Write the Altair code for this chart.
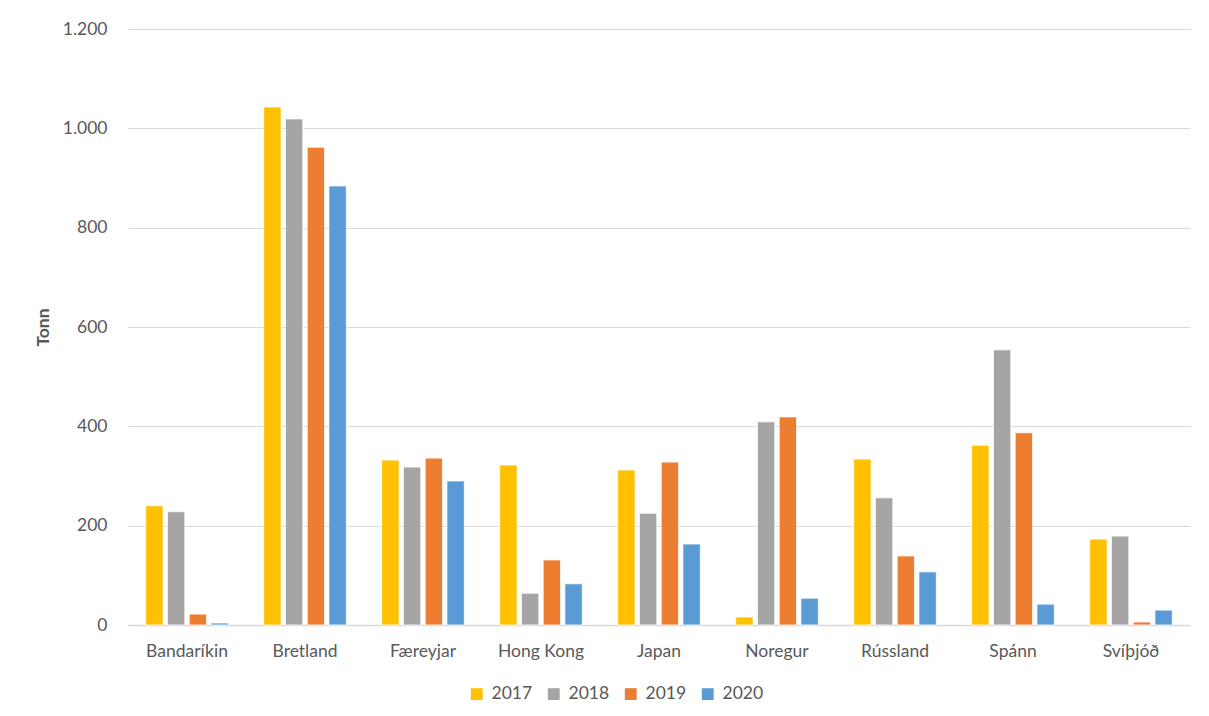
import altair as alt
import pandas as pd

countries = ["Bandaríkin", "Bretland", "Færeyjar", "Hong Kong", "Japan",
             "Noregur", "Rússland", "Spánn", "Svíþjóð"]
years = ["2017", "2018", "2019", "2020"]
v2017 = [240, 1043, 332, 322, 312, 16, 334, 362, 173]
v2018 = [228, 1019, 318, 64, 225, 409, 256, 554, 179]
v2019 = [22, 962, 336, 131, 328, 419, 139, 387, 6]
v2020 = [4, 884, 290, 83, 163, 54, 107, 42, 30]
colors = ["#FFC000", "#A5A5A5", "#ED7D31", "#5B9BD5"]

rows = []
for y, vals in zip(years, [v2017, v2018, v2019, v2020]):
    for c, v in zip(countries, vals):
        rows.append({"land": c, "ar": y, "tonn": v})
df = pd.DataFrame(rows)

FONT = "Lato"
FS = 17.5
bars = alt.Chart(df).mark_bar(stroke="white", strokeWidth=0.8).encode(
    x=alt.X("land:N", sort=countries, title=None,
            scale=alt.Scale(paddingInner=0.3, paddingOuter=0.15),
            axis=alt.Axis(labelAngle=0, labelPadding=17, ticks=False,
                          domainColor="#D9D9D9", domainWidth=1.5,
                          labelFontSize=FS, labelColor="#595959", labelFont=FONT)),
    xOffset=alt.XOffset("ar:N", sort=years,
                        scale=alt.Scale(paddingInner=0.2, paddingOuter=0)),
    y=alt.Y("tonn:Q", title="Tonn",
            scale=alt.Scale(domain=[0, 1200], nice=False),
            axis=alt.Axis(values=[0, 200, 400, 600, 800, 1000, 1200],
                          labelExpr="replace(format(datum.value, ',d'), ',', '.')",
                          domain=False, ticks=False, labelPadding=21,
                          gridColor="#D9D9D9", gridWidth=1,
                          labelFontSize=FS, labelColor="#595959", labelFont=FONT,
                          titleFont=FONT, titleFontSize=FS, titleColor="#595959",
                          titleFontWeight="bold", titleAngle=270,
                          titleX=-85, titleY=298, titleAlign="center",
                          titleBaseline="middle")),
    color=alt.Color("ar:N", sort=years, title=None,
                    scale=alt.Scale(domain=years, range=colors),
                    legend=alt.Legend(orient="none", direction="horizontal",
                                      legendX=340, legendY=656,
                                      symbolType="square", symbolSize=140,
                                      symbolStrokeWidth=0, padding=0,
                                      labelFontSize=FS, labelColor="#595959",
                                      labelFont=FONT, columnPadding=12,
                                      labelOffset=6)),
)

frame = alt.Chart(pd.DataFrame({"f": [0]})).mark_rect(
    fill=None, stroke="#D9D9D9", strokeWidth=1, clip=False
).encode(
    x=alt.value(-120.5), x2=alt.value(1085), y=alt.value(-21.5), y2=alt.value(700)
)

chart = alt.layer(frame, bars).properties(
    width=1062, height=596,
    autosize=alt.AutoSizeParams(type="none"),
    padding={"left": 120, "top": 21, "right": 11, "bottom": 83},
).configure_view(stroke=None)

chart.save("out.html", embed_options={"renderer": "svg", "actions": False})
